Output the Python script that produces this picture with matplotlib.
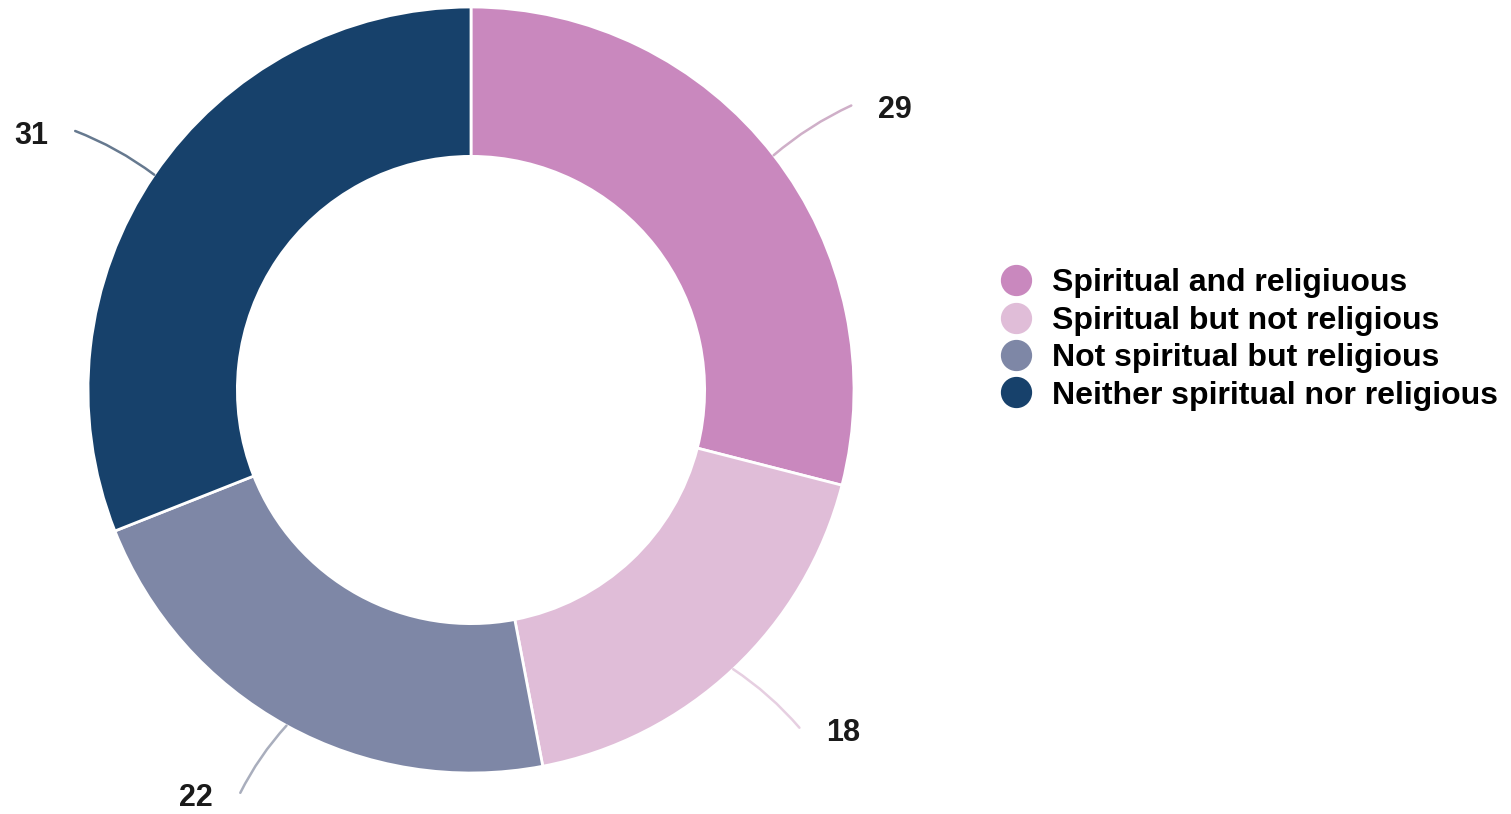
import numpy as np
import matplotlib.pyplot as plt
from matplotlib.lines import Line2D

categories = ["Spiritual and religiuous", "Spiritual but not religious",
              "Not spiritual but religious", "Neither spiritual nor religious"]
values = [29, 18, 22, 31]
colors = ["#C988BE", "#E0BDD8", "#7E87A6", "#17416B"]
line_colors = ["#CFAFC8", "#E6CFE1", "#A9AEBD", "#66798F"]
leader_len = [1.24, 1.23, 1.212, 1.235]

plt.rcParams['font.family'] = ['Liberation Sans', 'DejaVu Sans']

W, H = 1511, 814
cx, cy, R = 471, 390, 383

fig = plt.figure(figsize=(W / 100, H / 100), dpi=100)
ax = fig.add_axes([0, 0, 1, 1])

wedges, _ = ax.pie(values, colors=colors, startangle=90, counterclock=False,
                   radius=1, wedgeprops=dict(width=0.39, edgecolor="white", linewidth=2))

ax.set_xlim(-cx / R, (W - cx) / R)
ax.set_ylim(-(H - cy) / R, cy / R)
ax.set_aspect("equal")
ax.axis("off")

# value labels with gently curved leader lines
for w, v, lc, L in zip(wedges, values, line_colors, leader_len):
    mid = np.deg2rad((w.theta1 + w.theta2) / 2)
    x0, y0 = np.cos(mid), np.sin(mid)
    # ends pulled slightly toward the horizontal
    end = mid - np.sign(np.sin(mid) * np.cos(mid)) * np.deg2rad(1.0)
    x1, y1 = L * np.cos(end), L * np.sin(end)
    side = 1 if x1 > 0 else -1
    rad = 0.07 if side > 0 else -0.07
    ax.annotate("", xy=(x0, y0), xytext=(x1, y1),
                arrowprops=dict(arrowstyle="-", color=lc, lw=1.8,
                                connectionstyle=f"arc3,rad={rad}",
                                shrinkA=0, shrinkB=0))
    ax.text(x1 + side * 0.115, y1 - 0.013, str(v), ha="center", va="center",
            fontsize=22, fontweight="bold", color="#1a1a1a")

handles = [Line2D([], [], marker="o", linestyle="", markersize=21.5,
                  markerfacecolor=c, markeredgecolor=c) for c in colors]
ax.legend(handles, categories, loc="center left",
          bbox_to_anchor=(1001 / W, 1 - 339.5 / H), bbox_transform=fig.transFigure,
          frameon=False, prop=dict(weight="bold", size=23),
          borderpad=0, borderaxespad=0, handlelength=0.94, handletextpad=0.66,
          labelspacing=0.23)

fig.savefig("out.png", dpi=100)
